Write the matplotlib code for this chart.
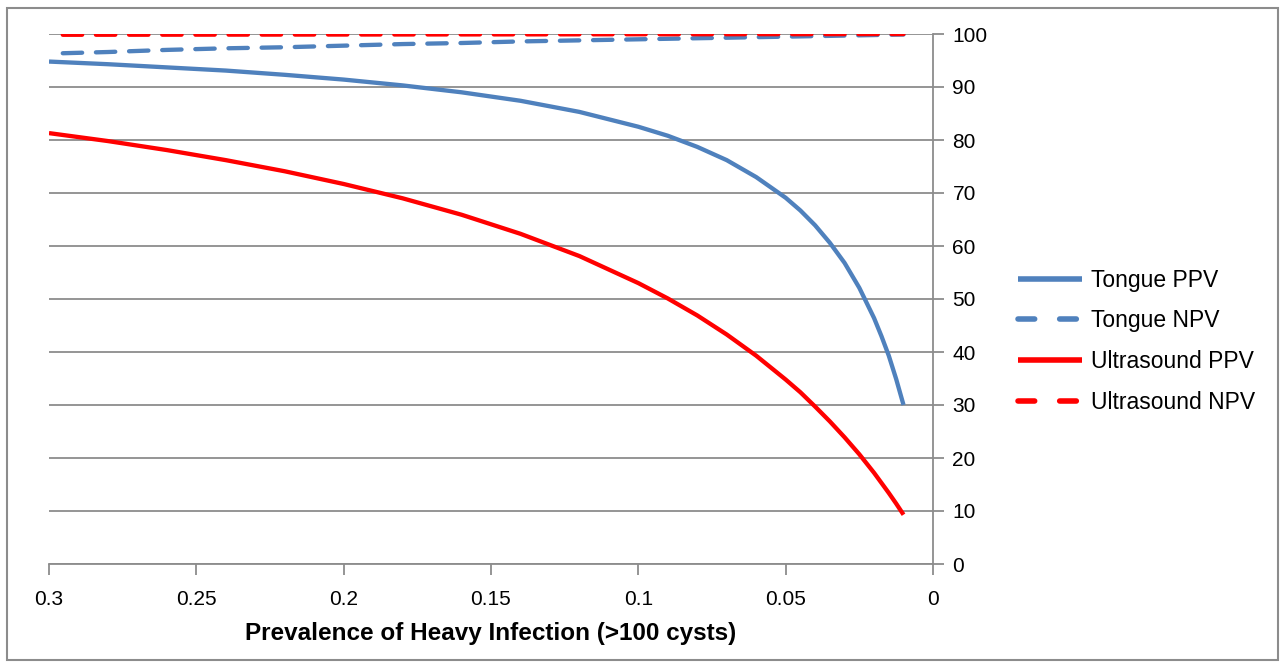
import numpy as np
import matplotlib.pyplot as plt
from matplotlib.patches import Rectangle

# prevalence values (x) and read-off predictive values (%)
prev = [0.30, 0.28, 0.26, 0.24, 0.22, 0.20, 0.18, 0.16, 0.14, 0.12, 0.10,
        0.09, 0.08, 0.07, 0.06, 0.05, 0.045, 0.04, 0.035, 0.03, 0.025,
        0.02, 0.0175, 0.015, 0.0125, 0.01]
tongue_ppv = [94.8, 94.3, 93.7, 93.1, 92.3, 91.4, 90.3, 89.0, 87.4, 85.3, 82.5,
              80.8, 78.7, 76.2, 73.0, 69.1, 66.7, 63.9, 60.6, 56.8, 52.1,
              46.4, 43.0, 39.3, 34.9, 30.0]
tongue_npv = [96.3, 96.6, 97.0, 97.3, 97.5, 97.8, 98.1, 98.3, 98.6, 98.8, 99.0,
              99.1, 99.2, 99.3, 99.4, 99.5, 99.55, 99.6, 99.65, 99.7, 99.75,
              99.8, 99.83, 99.86, 99.88, 99.9]
us_ppv = [81.3, 79.8, 78.1, 76.2, 74.1, 71.7, 69.0, 65.9, 62.3, 58.1, 53.0,
          50.1, 46.9, 43.3, 39.3, 34.8, 32.4, 29.7, 26.9, 23.9, 20.7,
          17.2, 15.3, 13.4, 11.4, 9.3]
us_npv = [99.85, 99.86, 99.87, 99.88, 99.89, 99.9, 99.91, 99.92, 99.93, 99.94, 99.95,
          99.95, 99.96, 99.96, 99.97, 99.97, 99.97, 99.98, 99.98, 99.98, 99.98,
          99.99, 99.99, 99.99, 99.99, 99.99]

xticks = [0.3, 0.25, 0.2, 0.15, 0.1, 0.05, 0]
xtick_labels = ['0.3', '0.25', '0.2', '0.15', '0.1', '0.05', '0']
yticks = list(range(0, 101, 10))

blue = '#4F81BD'
red = '#FF0000'
grid_c = '#8C8C8C'

plt.rcParams['font.family'] = ['Liberation Sans', 'DejaVu Sans']

fig = plt.figure(figsize=(12.85, 6.68), dpi=100)
ax = fig.add_axes([49 / 1285, 1 - 564 / 668, (933 - 49) / 1285, (564 - 34) / 668])

lw = 3.1
dash = (4.5, (4.5, 3.2))
ax.plot(prev, tongue_ppv, color=blue, lw=lw, label='Tongue PPV',
        solid_capstyle='butt', solid_joinstyle='round')
ax.plot(prev, tongue_npv, color=blue, lw=lw, ls=dash, label='Tongue NPV',
        dash_capstyle='round')
ax.plot(prev, us_ppv, color=red, lw=lw, label='Ultrasound PPV',
        solid_capstyle='butt', solid_joinstyle='round')
ax.plot(prev, us_npv, color=red, lw=lw, ls=dash, label='Ultrasound NPV',
        dash_capstyle='round')

ax.set_xlim(0.3, 0)
ax.set_ylim(0, 100)
ax.set_xticks(xticks)
ax.set_xticklabels(xtick_labels)
ax.set_yticks(yticks)

ax.yaxis.tick_right()
ax.grid(axis='y', color=grid_c, lw=1.3)
ax.set_axisbelow(True)
for s in ['left', 'top']:
    ax.spines[s].set_visible(False)
ax.spines['right'].set_color(grid_c)
ax.spines['right'].set_linewidth(1.3)
ax.spines['bottom'].set_color(grid_c)
ax.spines['bottom'].set_linewidth(1.3)
ax.tick_params(axis='y', length=8, width=1.3, color=grid_c, labelsize=15, pad=6)
ax.tick_params(axis='x', length=8, width=1.3, color=grid_c, labelsize=15, pad=11)

ax.set_xlabel('Prevalence of Heavy Infection (>100 cysts)', fontsize=17.5,
              fontweight='bold', labelpad=9)

leg = ax.legend(loc='center left', bbox_to_anchor=(1.073, 0.42), frameon=False,
                fontsize=16.5, handlelength=2.8, handletextpad=0.36, labelspacing=0.78)
for h in leg.get_lines():
    h.set_linewidth(4)
    if h.get_linestyle() != '-':
        h.set_linestyle((0, (3, 4.5)))

fig.patches.append(Rectangle((7 / 1285, 8 / 668), 1271 / 1285, 652 / 668,
                             transform=fig.transFigure, fill=False,
                             edgecolor='#8C8C8C', lw=1.5))

fig.savefig('out.png', dpi=100)
